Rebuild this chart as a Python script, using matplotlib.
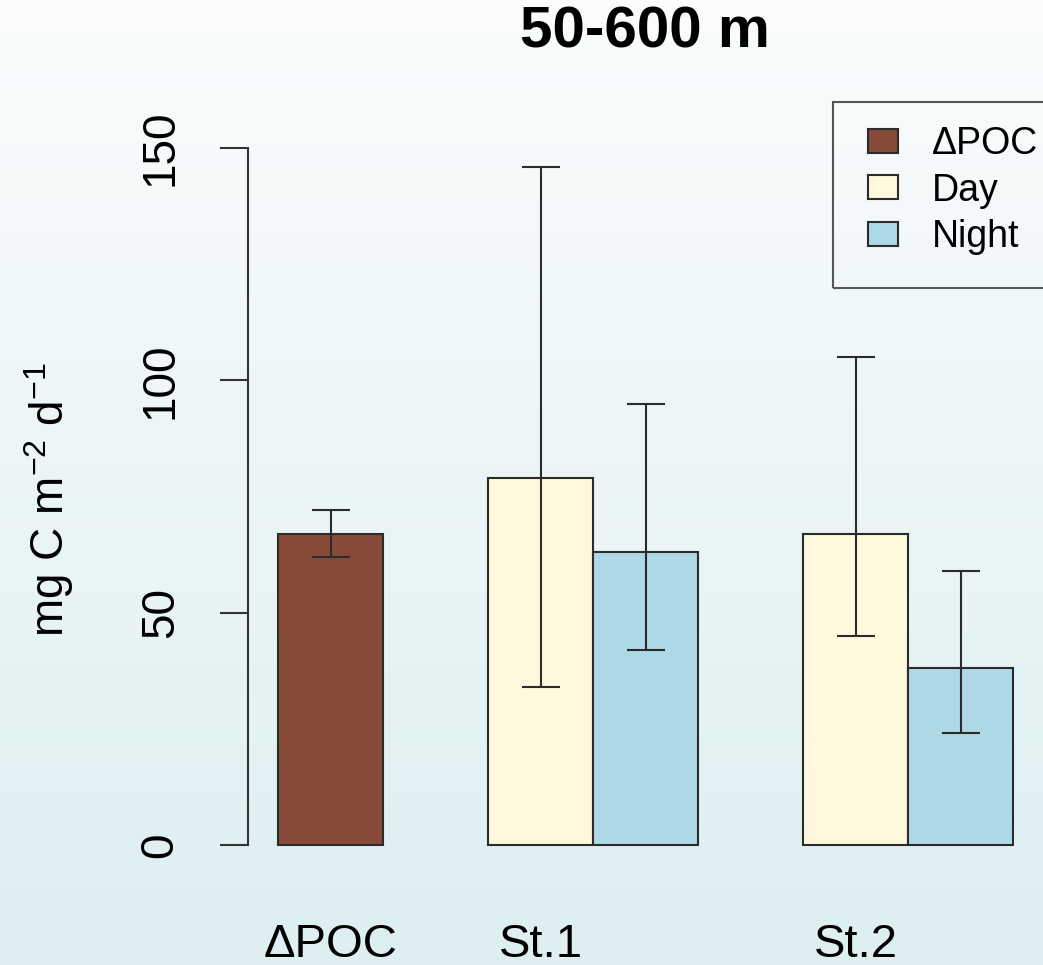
import numpy as np
import matplotlib
matplotlib.use("Agg")
import matplotlib.pyplot as plt
from matplotlib.patches import Patch, Rectangle

plt.rcParams['font.family'] = ['Liberation Sans', 'DejaVu Sans']
plt.rcParams['mathtext.fontset'] = 'custom'
plt.rcParams['mathtext.rm'] = 'Liberation Sans'
plt.rcParams['mathtext.it'] = 'Liberation Sans'

# ---- data ----
title = "50-600 m"
group_labels = ["\u0394POC", "St.1", "St.2"]
series_names = ["\u0394POC", "Day", "Night"]
dpoc_value = [67]
dpoc_lo = [62]
dpoc_hi = [72]
day_values = [79, 67]
day_lo = [34, 45]
day_hi = [146, 105]
night_values = [63, 38]
night_lo = [42, 24]
night_hi = [95, 59]
yticks = [0, 50, 100, 150]

colors = {"\u0394POC": "#874A38", "Day": "#FFF8DC", "Night": "#ADD8E6"}
edge = "#2b2b2b"

W, H = 1043, 965
fig = plt.figure(figsize=(W / 100, H / 100), dpi=100)

# background gradient
bg = fig.add_axes([0, 0, 1, 1], zorder=-10)
top = np.array([250, 252, 253]) / 255
bot = np.array([221, 239, 241]) / 255
t = np.linspace(0, 1, 256)[:, None]
grad = (top[None, :] * (1 - t) + bot[None, :] * t)[:, None, :]
bg.imshow(grad, aspect='auto', extent=[0, 1, 0, 1])
bg.axis('off')

ax_left, ax_right = 248 / W, 1.0
ax_bot, ax_top = (H - 845) / H, (H - 148) / H
ax = fig.add_axes([ax_left, ax_bot, ax_right - ax_left, ax_top - ax_bot])
ax.patch.set_alpha(0)

bw = 1.0
px_per_unit = 105
x0 = -(330.5 - 248) / px_per_unit
ax.set_xlim(x0, x0 + (W - 248) / px_per_unit)
ax.set_ylim(0, 150)

# positions: dPOC bar, then groups of (day, night) separated by one-bar gaps
pos_dpoc = np.array([0.0])
pos_day = np.array([2.0, 5.0])
pos_night = pos_day + bw

def draw(pos, vals, lo, hi, color):
    ax.bar(pos, vals, width=bw, color=color, edgecolor=edge, linewidth=1.5, zorder=2, clip_on=False)
    vals = np.array(vals); lo = np.array(lo); hi = np.array(hi)
    ax.errorbar(pos, vals, yerr=[vals - lo, hi - vals], fmt='none', ecolor=edge,
                elinewidth=1.5, capsize=14, capthick=1.5, zorder=3, clip_on=False)

draw(pos_dpoc, dpoc_value, dpoc_lo, dpoc_hi, colors["\u0394POC"])
draw(pos_day, day_values, day_lo, day_hi, colors["Day"])
draw(pos_night, night_values, night_lo, night_hi, colors["Night"])

for s in ['top', 'right', 'bottom']:
    ax.spines[s].set_visible(False)
ax.spines['left'].set_bounds(0, 150)
ax.spines['left'].set_color('#333333')
ax.spines['left'].set_linewidth(1.5)
ax.set_yticks(yticks)
ax.set_yticklabels([str(v) for v in yticks], rotation=90, va='center', fontsize=33)
ax.tick_params(axis='y', length=20, width=1.5, color='#333333', pad=27)

ax.set_xticks(np.concatenate([pos_dpoc, pos_day]))
ax.set_xticklabels(group_labels, fontsize=34)
ax.tick_params(axis='x', length=0, pad=56)

fig.text(49 / W, 1 - 500 / H, "mg C m$^{-2}$ d$^{-1}$", rotation=90, fontsize=33,
         ha='center', va='center')
fig.text(645 / W, 1 - 33 / H, title, fontsize=42, fontweight='bold', ha='center', va='center')

# legend frame
fig.patches.append(Rectangle((833 / W, 1 - 288 / H), 240 / W, 186 / H,
                             transform=fig.transFigure, facecolor='none',
                             edgecolor='#555555', linewidth=1.5, zorder=5))
handles = [Patch(facecolor=colors[n], edgecolor=edge, linewidth=1.5) for n in series_names]
leg = fig.legend(handles, series_names, loc='upper left',
                 bbox_to_anchor=(868 / W, 1 - 126 / H), bbox_transform=fig.transFigure,
                 fontsize=27, handlelength=0.8, handleheight=0.62, handletextpad=0.9,
                 labelspacing=0.28, borderpad=0, borderaxespad=0, frameon=False)

fig.savefig("out.png", dpi=100)
